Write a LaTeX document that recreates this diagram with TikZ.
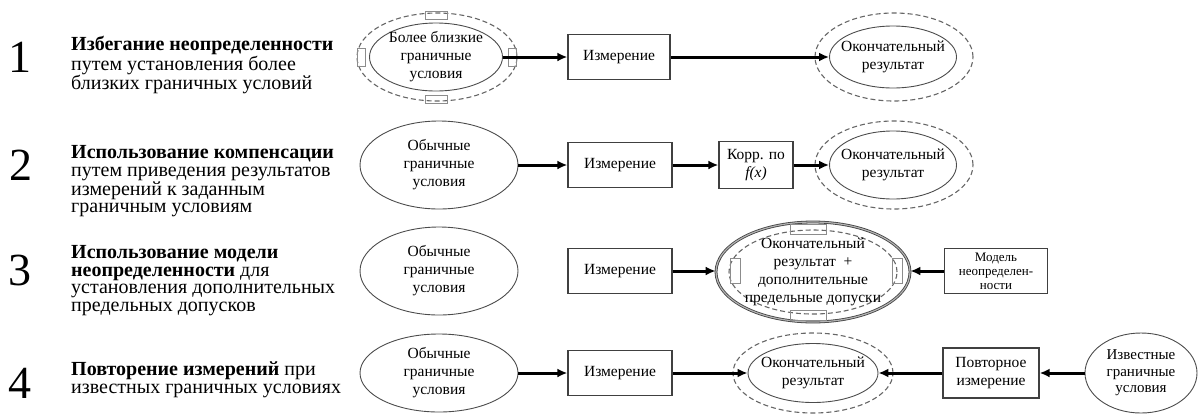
\documentclass[tikz,border=0pt]{standalone}
\usepackage{fontspec}
\setmainfont{Liberation Serif}
\usetikzlibrary{shapes.geometric,arrows.meta}
\begin{document}
\begin{tikzpicture}[x=1pt,y=-1pt,
  lbl/.style={anchor=north west,align=left,font=\fontsize{20}{17.7}\selectfont,inner sep=0},
  num/.style={anchor=base,font=\fontsize{46}{46}\selectfont,inner sep=0},
  ell/.style={ellipse,draw=black!70,line width=0.9pt,inner sep=0},
  dell/.style={ellipse,draw=black!60,dash pattern=on 5pt off 3pt,line width=1.1pt,inner sep=0},
  bigell/.style={ellipse,draw=black!75,line width=0.8pt,double=black!30,double distance=1.2pt,inner sep=0},
  box/.style={rectangle,draw=black!75,line width=1.3pt,inner sep=0,align=center,font=\fontsize{15.5}{18}\selectfont},
  ntxt/.style={align=center,font=\fontsize{15.5}{18}\selectfont,inner sep=0},
  arr/.style={line width=3pt,-{Latex[length=10pt,width=9pt]}},
  notch/.style={rectangle,draw=black!45,line width=0.8pt,inner sep=0}]
\useasboundingbox (0,0) rectangle (1200,416);
% left labels
\node[num] (n1) at (20,72) {1};
\node[lbl] (l1) at (71,36) {\textbf{Избегание неопределенности}\\путем установления более\\близких граничных условий};
\node[num] (n2) at (21,180) {2};
\node[lbl] (l2) at (71,145) {\textbf{Использование компенсации}\\путем приведения результатов\\измерений к заданным\\граничным условиям};
\node[num] (n3) at (20,285) {3};
\node[lbl] (l3) at (71,245) {\textbf{Использование модели}\\\textbf{неопределенности} для\\установления дополнительных\\предельных допусков};
\node[num] (n4) at (20,398) {4};
\node[lbl] (l4) at (71,362) {\textbf{Повторение измерений} при\\известных граничных условиях};
% row 1
\node[dell,minimum width=160,minimum height=88] (e1o) at (437,57) {};
\node[ell,minimum width=133,minimum height=68] (e1) at (436,57) {};
\node[ntxt] (t1) at (e1) {Более близкие\\граничные\\условия};
\node[notch,minimum width=22,minimum height=8] (q1a) at (436,15) {};
\node[notch,minimum width=22,minimum height=8] (q1b) at (436,99) {};
\node[notch,minimum width=8,minimum height=18] (q1c) at (361,57) {};
\node[notch,minimum width=8,minimum height=18] (q1d) at (512,57) {};
\node[box,minimum width=102,minimum height=45] (m1) at (619,57) {Измерение};
\node[dell,minimum width=158,minimum height=88] (f1o) at (894,57) {};
\node[ell,minimum width=127,minimum height=62] (f1) at (893,57) {};
\node[ntxt] (g1) at (f1) {Окончательный\\результат};
\draw[arr] (e1.east) -- (m1.west);
\draw[arr] (m1.east) -- (f1.west);
% row 2
\node[ell,minimum width=158,minimum height=88] (e2) at (439,165) {};
\node[ntxt] (t2) at (e2) {Обычные\\граничные\\условия};
\node[box,minimum width=104,minimum height=45] (m2) at (620,165) {Измерение};
\node[box,minimum width=74,minimum height=47] (k2) at (756,165) {Корр. по\\\textit{f(x)}};
\node[dell,minimum width=158,minimum height=88] (f2o) at (894,165) {};
\node[ell,minimum width=127,minimum height=68] (f2) at (893,165) {};
\node[ntxt] (g2) at (f2) {Окончательный\\результат};
\draw[arr] (e2.east) -- (m2.west);
\draw[arr] (m2.east) -- (k2.west);
\draw[arr] (k2.east) -- (f2.west);
% row 3
\node[ell,minimum width=158,minimum height=88] (e3) at (439,271) {};
\node[ntxt] (t3) at (e3) {Обычные\\граничные\\условия};
\node[box,minimum width=104,minimum height=45] (m3) at (620,271) {Измерение};
\node[bigell,minimum width=194,minimum height=100] (b3) at (813,272) {};
\node[dell,minimum width=168,minimum height=84] (b3i) at (813,272) {};
\node[notch,minimum width=36,minimum height=10] (q3a) at (808,229) {};
\node[notch,minimum width=36,minimum height=10] (q3b) at (808,315) {};
\node[notch,minimum width=10,minimum height=25] (q3c) at (735,271) {};
\node[notch,minimum width=10,minimum height=25] (q3d) at (897,271) {};
\node[ntxt] (g3) at (b3) {Окончательный\\результат \ +\\дополнительные\\предельные допуски};
\node[box,minimum width=103,minimum height=45,font=\fontsize{13}{14}\selectfont] (mod3) at (996,271) {Модель\\неопределен-\\ности};
\draw[arr] (m3.east) -- (m3.east -| b3.west);
\draw[arr] (mod3.west) -- (mod3.west -| b3.east);
% row 4
\node[ell,minimum width=158,minimum height=78] (e4) at (439,373) {};
\node[ntxt] (t4) at (e4) {Обычные\\граничные\\условия};
\node[box,minimum width=104,minimum height=45] (m4) at (620,373) {Измерение};
\node[dell,minimum width=160,minimum height=80] (f4o) at (813,373) {};
\node[ell,minimum width=130,minimum height=59] (f4) at (813,373) {};
\node[ntxt] (g4) at (f4) {Окончательный\\результат};
\node[box,minimum width=96,minimum height=50] (p4) at (991,373) {Повторное\\измерение};
\node[ell,minimum width=112,minimum height=80] (k4) at (1141,373) {};
\node[ntxt,font=\fontsize{15}{16.5}\selectfont] (h4) at (k4) {Известные\\граничные\\условия};
\draw[arr] (e4.east) -- (m4.west);
\draw[arr] (m4.east) -- (f4.west);
\draw[arr] (p4.west) -- (f4.east);
\draw[arr] (k4.west) -- (p4.east);
\end{tikzpicture}
\end{document}
